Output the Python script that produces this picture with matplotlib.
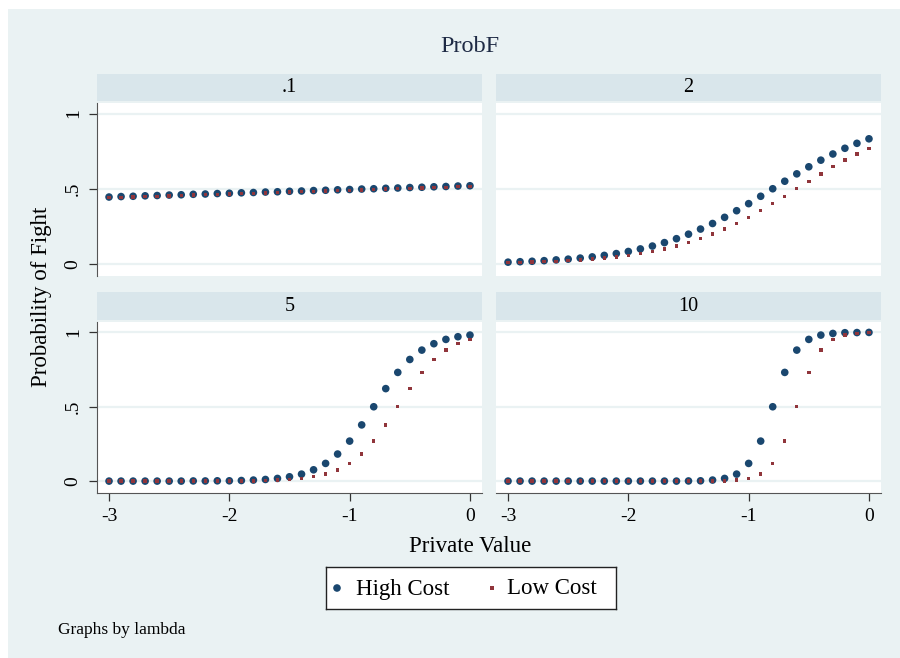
import matplotlib
matplotlib.use("Agg")
import matplotlib.pyplot as plt
from matplotlib.patches import Rectangle

plt.rcParams['font.family'] = ['Liberation Serif', 'DejaVu Serif']

# private value grid (-3 .. 0)
x = [-3.0, -2.9, -2.8, -2.7, -2.6, -2.5, -2.4, -2.3, -2.2, -2.1, -2.0,
     -1.9, -1.8, -1.7, -1.6, -1.5, -1.4, -1.3, -1.2, -1.1, -1.0,
     -0.9, -0.8, -0.7, -0.6, -0.5, -0.4, -0.3, -0.2, -0.1, 0.0]

lambdas = ['.1', '2', '5', '10']

high_01 = [0.445, 0.448, 0.450, 0.453, 0.455, 0.458, 0.460, 0.463, 0.465, 0.468, 0.470,
           0.473, 0.475, 0.478, 0.480, 0.483, 0.485, 0.488, 0.490, 0.493, 0.495,
           0.498, 0.500, 0.503, 0.505, 0.508, 0.510, 0.513, 0.515, 0.518, 0.520]
low_01 = [0.440, 0.443, 0.445, 0.448, 0.450, 0.453, 0.455, 0.458, 0.460, 0.463, 0.465,
          0.468, 0.470, 0.473, 0.475, 0.478, 0.480, 0.483, 0.485, 0.488, 0.490,
          0.493, 0.495, 0.498, 0.500, 0.503, 0.505, 0.508, 0.510, 0.513, 0.515]

high_2 = [0.012, 0.015, 0.018, 0.022, 0.027, 0.032, 0.039, 0.047, 0.057, 0.069, 0.083,
          0.100, 0.119, 0.142, 0.168, 0.198, 0.232, 0.269, 0.310, 0.354, 0.401,
          0.450, 0.500, 0.550, 0.599, 0.646, 0.690, 0.731, 0.769, 0.802, 0.832]
low_2 = [0.008, 0.010, 0.012, 0.015, 0.018, 0.022, 0.027, 0.032, 0.039, 0.047, 0.057,
         0.069, 0.083, 0.100, 0.119, 0.142, 0.168, 0.198, 0.232, 0.269, 0.310,
         0.354, 0.401, 0.450, 0.500, 0.550, 0.599, 0.646, 0.690, 0.731, 0.769]

high_5 = [0.000, 0.000, 0.000, 0.000, 0.000, 0.000, 0.000, 0.001, 0.001, 0.002, 0.002,
          0.004, 0.007, 0.011, 0.018, 0.029, 0.047, 0.076, 0.119, 0.182, 0.269,
          0.378, 0.500, 0.622, 0.731, 0.818, 0.881, 0.924, 0.953, 0.971, 0.982]
low_5 = [0.000, 0.000, 0.000, 0.000, 0.000, 0.000, 0.000, 0.000, 0.000, 0.001, 0.001,
         0.002, 0.002, 0.004, 0.007, 0.011, 0.018, 0.029, 0.047, 0.076, 0.119,
         0.182, 0.269, 0.378, 0.500, 0.622, 0.731, 0.818, 0.881, 0.924, 0.953]

high_10 = [0.000, 0.000, 0.000, 0.000, 0.000, 0.000, 0.000, 0.000, 0.000, 0.000, 0.000,
           0.000, 0.000, 0.000, 0.000, 0.001, 0.002, 0.007, 0.018, 0.047, 0.119,
           0.269, 0.500, 0.731, 0.881, 0.953, 0.982, 0.993, 0.998, 0.999, 1.000]
low_10 = [0.000, 0.000, 0.000, 0.000, 0.000, 0.000, 0.000, 0.000, 0.000, 0.000, 0.000,
          0.000, 0.000, 0.000, 0.000, 0.000, 0.000, 0.001, 0.002, 0.007, 0.018,
          0.047, 0.119, 0.269, 0.500, 0.731, 0.881, 0.953, 0.982, 0.993, 0.998]

highs = [high_01, high_2, high_5, high_10]
lows = [low_01, low_2, low_5, low_10]

navy = '#1A476F'
maroon = '#90353B'
bg = '#EAF2F3'
strip = '#D9E6EB'

W, H = 900, 658
fig = plt.figure(figsize=(9, 6.58), dpi=100)
fig.patch.set_facecolor('white')
fig.patches.append(Rectangle((8 / W, 0), 1, 1 - 9 / H, transform=fig.transFigure,
                             facecolor=bg, edgecolor='none', zorder=-10))


def rect(x0, y0, x1, y1):
    return [x0 / W, 1 - y1 / H, (x1 - x0) / W, (y1 - y0) / H]


cols = [(97, 482), (496, 881)]
rows = [((74, 101), (103, 276)), ((292, 320), (322, 493))]

for i in range(4):
    r, c = divmod(i, 2)
    (s0, s1), (p0, p1) = rows[r]
    x0, x1 = cols[c]

    sax = fig.add_axes(rect(x0, s0, x1, s1))
    sax.set_facecolor(strip)
    sax.set_xticks([])
    sax.set_yticks([])
    for sp in sax.spines.values():
        sp.set_visible(False)
    sax.text(0.5, 0.5, lambdas[i], ha='center', va='center', fontsize=14.5,
             transform=sax.transAxes)

    ax = fig.add_axes(rect(x0, p0, x1, p1))
    ax.set_facecolor('white')
    ax.set_xlim(-3.1, 0.1)
    ax.set_ylim(-0.08, 1.07)
    for yv in [0, 0.5, 1]:
        ax.axhline(yv, color=bg, lw=1.6, zorder=0)
    ax.scatter(x, highs[i], s=30, color=navy, edgecolors='none', zorder=3)
    ax.scatter(x, lows[i], s=6, marker='s', color=maroon, edgecolors='none', zorder=4)

    for sp in ax.spines.values():
        sp.set_visible(False)
    ax.tick_params(direction='out', length=6, width=0.9, color='#333333',
                   labelsize=14, pad=5)
    if c == 0:
        ax.spines['left'].set_visible(True)
        ax.spines['left'].set_color('#555555')
        ax.set_yticks([0, 0.5, 1])
        ax.set_yticklabels(['0', '.5', '1'], rotation=90, va='center')
    else:
        ax.set_yticks([])
    if r == 1:
        ax.spines['bottom'].set_visible(True)
        ax.spines['bottom'].set_color('#555555')
        ax.set_xticks([-3, -2, -1, 0])
        ax.set_xticklabels(['-3', '-2', '-1', '0'])
    else:
        ax.set_xticks([])

fig.text(470 / W, 1 - 47 / H, 'ProbF', ha='center', va='center', fontsize=17.5,
         color='#1E2A44')
fig.text(470 / W, 1 - 547 / H, 'Private Value', ha='center', va='center', fontsize=16.5)
fig.text(42 / W, 1 - 297 / H, 'Probability of Fight', ha='center', va='center',
         fontsize=16.5, rotation=90)
fig.text(58 / W, 1 - 630 / H, 'Graphs by lambda', ha='left', va='center', fontsize=12.5)

# legend
lax = fig.add_axes(rect(326, 567, 616, 609))
lax.set_xlim(326, 616)
lax.set_ylim(609, 567)
lax.set_facecolor('white')
lax.set_xticks([])
lax.set_yticks([])
for sp in lax.spines.values():
    sp.set_color('#222222')
    sp.set_linewidth(1.0)
lax.scatter([337], [588], s=30, color=navy, edgecolors='none')
lax.scatter([492], [588], s=6, marker='s', color=maroon, edgecolors='none')
lax.text(356, 589, 'High Cost', ha='left', va='center', fontsize=16.5)
lax.text(507, 589, 'Low Cost', ha='left', va='center', fontsize=16.5)

fig.savefig('out.png', dpi=100, facecolor=fig.get_facecolor())
